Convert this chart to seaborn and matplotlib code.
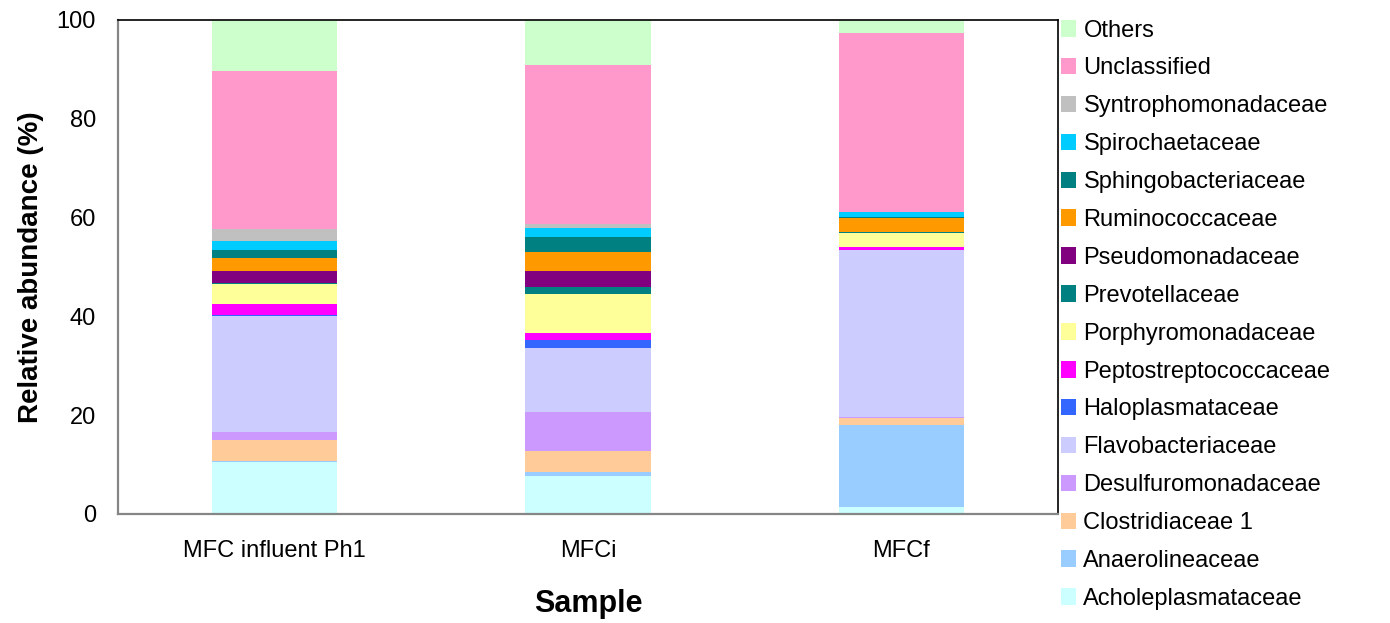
import matplotlib
matplotlib.use("Agg")
import matplotlib.pyplot as plt
import seaborn as sns
import numpy as np
from matplotlib.patches import Patch

samples = ["MFC influent Ph1", "MFCi", "MFCf"]

families = ["Acholeplasmataceae", "Anaerolineaceae", "Clostridiaceae 1",
            "Desulfuromonadaceae", "Flavobacteriaceae", "Haloplasmataceae",
            "Peptostreptococcaceae", "Porphyromonadaceae", "Prevotellaceae",
            "Pseudomonadaceae", "Ruminococcaceae", "Sphingobacteriaceae",
            "Spirochaetaceae", "Syntrophomonadaceae", "Unclassified", "Others"]

acholeplasmataceae = [10.5, 7.6, 1.4]
anaerolineaceae = [0.2, 1.0, 16.6]
clostridiaceae_1 = [4.3, 4.15, 1.4]
desulfuromonadaceae = [1.6, 7.85, 0.2]
flavobacteriaceae = [23.5, 13.1, 33.8]
haloplasmataceae = [0.1, 1.6, 0.0]
peptostreptococcaceae = [2.3, 1.3, 0.7]
porphyromonadaceae = [4.1, 8.0, 2.8]
prevotellaceae = [0.1, 1.3, 0.2]
pseudomonadaceae = [2.4, 3.3, 0.0]
ruminococcaceae = [2.7, 3.8, 2.9]
sphingobacteriaceae = [1.7, 3.0, 0.2]
spirochaetaceae = [1.7, 1.9, 1.0]
syntrophomonadaceae = [2.5, 0.9, 0.0]
unclassified = [31.9, 32.1, 36.1]
others = [10.4, 9.1, 2.7]

series = [acholeplasmataceae, anaerolineaceae, clostridiaceae_1, desulfuromonadaceae,
          flavobacteriaceae, haloplasmataceae, peptostreptococcaceae, porphyromonadaceae,
          prevotellaceae, pseudomonadaceae, ruminococcaceae, sphingobacteriaceae,
          spirochaetaceae, syntrophomonadaceae, unclassified, others]

colors = ["#CCFFFF", "#99CCFF", "#FFCC99", "#CC99FF", "#CCCCFF", "#3366FF",
          "#FF00FF", "#FFFF99", "#008080", "#800080", "#FF9900", "#008080",
          "#00CCFF", "#C0C0C0", "#FF99CC", "#CCFFCC"]

yticks = [0, 20, 40, 60, 80, 100]

sns.set_style("white")
plt.rcParams['font.family'] = ['Liberation Sans', 'DejaVu Sans']
plt.rcParams['text.color'] = 'black'
plt.rcParams['axes.labelcolor'] = 'black'

fig = plt.figure(figsize=(13.9, 6.23), dpi=100)
ax = fig.add_axes([118/1390, 109/623, 940/1390, 494/623])

bottom = np.zeros(len(samples))
for name, vals, col in zip(families, series, colors):
    sns.barplot(x=samples, y=vals, bottom=bottom, color=col, width=0.4,
                linewidth=0, ax=ax, saturation=1)
    bottom = bottom + np.array(vals)

ax.set_xlim(-0.5, 2.5)
ax.set_ylim(0, 100)
ax.set_yticks(yticks)
ax.set_yticklabels([str(v) for v in yticks], fontsize=17)
ax.set_xticks([0, 1, 2])
ax.set_xticklabels(samples, fontsize=17)
ax.set_xticks([0.5, 1.5], minor=True)
ax.tick_params(axis='x', which='major', length=0, pad=19, labelcolor='black')
ax.tick_params(axis='x', which='minor', length=6, width=1, color='#868686', direction='out')
ax.tick_params(axis='y', which='major', length=6, width=1, color='#868686', direction='out',
               pad=10, labelcolor='black')

for s in ['left', 'bottom']:
    ax.spines[s].set_color('#868686')
    ax.spines[s].set_linewidth(1.6)
for s in ['top', 'right']:
    ax.spines[s].set_color('black')
    ax.spines[s].set_linewidth(1.2)
    ax.spines[s].set_visible(True)

ax.set_xlabel("Sample", fontsize=22, fontweight='bold')
ax.set_ylabel("Relative abundance (%)", fontsize=20, fontweight='bold')
ax.xaxis.set_label_coords(0.5, -0.152)
ax.yaxis.set_label_coords(-0.079, 0.5)

handles = [Patch(facecolor=c, edgecolor='none', label=n) for n, c in zip(families, colors)]
handles = handles[::-1]
leg = ax.legend(handles=handles, loc='upper left', bbox_to_anchor=(1.0 + 3/940, 1.001),
                frameon=False, fontsize=17, handlelength=0.62, handleheight=0.7,
                handletextpad=0.33, labelspacing=0.673, borderaxespad=0.0, borderpad=0.0)

fig.savefig("out.png", dpi=100)
